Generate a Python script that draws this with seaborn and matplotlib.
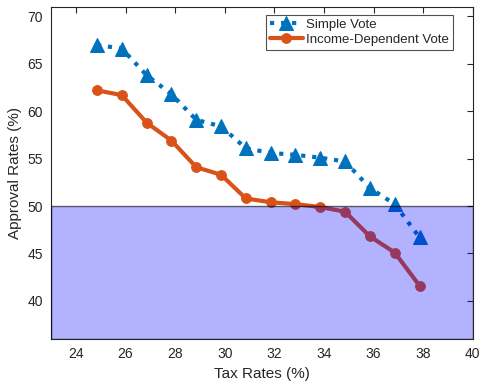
import pandas as pd
import numpy as np
import matplotlib
matplotlib.use('Agg')
import matplotlib.pyplot as plt
import seaborn as sns

sns.set_style('white')
plt.rcParams['font.family'] = ['Liberation Sans', 'DejaVu Sans']

# data
tax_rates = [24.85, 25.85, 26.85, 27.85, 28.85, 29.85, 30.85, 31.85, 32.85, 33.85, 34.85, 35.85, 36.85, 37.85]
simple_vote = [67.0, 66.6, 63.8, 61.8, 59.1, 58.4, 56.1, 55.6, 55.4, 55.1, 54.7, 51.9, 50.2, 46.7]
income_vote = [62.2, 61.7, 58.8, 56.9, 54.1, 53.3, 50.8, 50.4, 50.2, 49.9, 49.4, 46.8, 45.1, 41.6]
x_ticks = [24, 26, 28, 30, 32, 34, 36, 38, 40]
y_ticks = [40, 45, 50, 55, 60, 65, 70]

blue = '#0072BD'
orange = '#D95319'
txt = '#262626'

df = pd.DataFrame({'tax': tax_rates, 'simple': simple_vote, 'income': income_vote})

fig = plt.figure(figsize=(4.82, 3.85), dpi=100)
ax = fig.add_axes([0.106, 0.12, 0.875, 0.862])

sns.lineplot(data=df, x='tax', y='simple', ax=ax, color=blue, linestyle=':', linewidth=3,
             marker='^', markersize=10, markeredgecolor=blue, label='Simple Vote')
sns.lineplot(data=df, x='tax', y='income', ax=ax, color=orange, linestyle='-', linewidth=3,
             marker='o', markersize=7, markeredgecolor=orange, label='Income-Dependent Vote')

# shaded "rejected" region drawn on top of the lines
ax.axhspan(36, 50, facecolor=(0, 0, 1, 0.3), edgecolor=(0, 0, 0, 0.6), linewidth=1, zorder=5)

ax.set_xlim(23, 40)
ax.set_ylim(36, 71)
ax.set_xticks(x_ticks)
ax.set_yticks(y_ticks)
ax.tick_params(direction='in', length=4, width=0.8, top=True, right=True, colors=txt,
               labelsize=10, labelcolor=txt, pad=6)
for s in ax.spines.values():
    s.set_color(txt)
    s.set_linewidth(0.8)
ax.set_xlabel('Tax Rates (%)', fontsize=11, color=txt)
ax.set_ylabel('Approval Rates (%)', fontsize=11, color=txt)

leg = ax.legend(loc='upper right', bbox_to_anchor=(0.96, 0.985), fontsize=9.5, frameon=True,
                fancybox=False, edgecolor=txt, borderpad=0.3, labelspacing=0.2,
                handlelength=2.5, handletextpad=0.3, borderaxespad=0.2)
leg.get_frame().set_linewidth(0.8)
leg.set_zorder(10)

fig.savefig('out.png', dpi=100)
